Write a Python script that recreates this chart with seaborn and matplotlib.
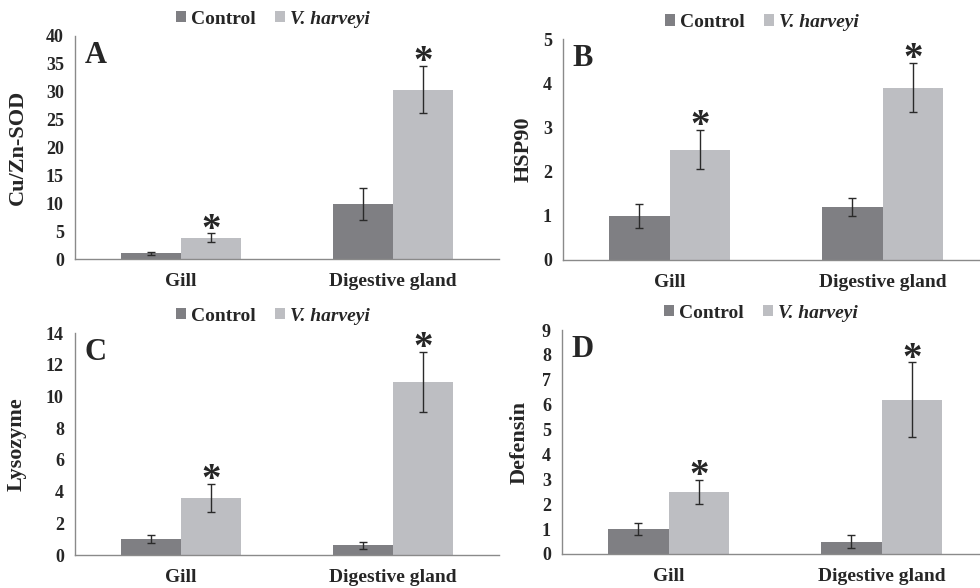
import matplotlib.pyplot as plt
import seaborn as sns
import numpy as np
import pandas as pd
from matplotlib.patches import Patch


TISSUES = ['Gill', 'Digestive gland']
GROUPS = ['Control', 'V. harveyi']
PALETTE = ['#7f7f83', '#bdbec2']
SPINE = '#8a8a8a'

# values, ordered [Gill, Digestive gland]
sod_control = [1.0, 9.8]
sod_control_err = [0.3, 2.85]
sod_vibrio = [3.8, 30.4]
sod_vibrio_err = [0.8, 4.2]

hsp_control = [1.0, 1.2]
hsp_control_err = [0.27, 0.21]
hsp_vibrio = [2.5, 3.9]
hsp_vibrio_err = [0.45, 0.56]

lys_control = [1.0, 0.6]
lys_control_err = [0.25, 0.2]
lys_vibrio = [3.6, 10.9]
lys_vibrio_err = [0.9, 1.9]

def_control = [1.0, 0.5]
def_control_err = [0.25, 0.25]
def_vibrio = [2.5, 6.2]
def_vibrio_err = [0.48, 1.5]


def bar_panel(ax, control, control_err, vibrio, vibrio_err, ylabel, letter,
              ymax, ystep, label_x):
    df = pd.DataFrame({
        'tissue': TISSUES * 2,
        'group': [GROUPS[0]] * len(TISSUES) + [GROUPS[1]] * len(TISSUES),
        'value': list(control) + list(vibrio),
    })
    sns.barplot(data=df, x='tissue', y='value', hue='group', order=TISSUES,
                hue_order=GROUPS, palette=PALETTE, width=0.57, errorbar=None,
                saturation=1, linewidth=0, legend=False, ax=ax)

    # error bars on top of each bar, asterisks above the V. harveyi ones
    for cont, vals, errs in zip(ax.containers, [control, vibrio],
                                [control_err, vibrio_err]):
        xs = [b.get_x() + b.get_width() / 2 for b in cont]
        ax.errorbar(xs, vals, yerr=errs, fmt='none', ecolor='#2a2a2a',
                    elinewidth=1, capsize=3, capthick=1)
    vib_x = [b.get_x() + b.get_width() / 2 for b in ax.containers[1]]
    for x, v, e in zip(vib_x, vibrio, vibrio_err):
        ax.annotate('*', (x, v + e), xytext=(0, -11), textcoords='offset points',
                    ha='center', va='bottom', fontsize=28, fontweight='bold')

    ax.set_xlim(-0.5, len(TISSUES) - 0.5)
    ax.set_ylim(0, ymax)
    ax.set_yticks(np.arange(0, ymax + ystep / 2, ystep))
    ax.set_xticks(np.arange(-0.5, len(TISSUES)), minor=True)
    ax.tick_params(axis='x', which='major', length=0, pad=10, labelsize=14)
    ax.tick_params(axis='x', which='minor', length=6, direction='out',
                   color=SPINE)
    ax.tick_params(axis='y', length=5, direction='out', color=SPINE,
                   labelsize=13, pad=3)
    ax.set_xlabel('')
    ax.set_ylabel(ylabel, fontsize=16, fontweight='bold')
    ax.yaxis.set_label_coords(label_x, 0.5)
    for side in ['top', 'right']:
        ax.spines[side].set_visible(False)
    for side in ['left', 'bottom']:
        ax.spines[side].set_color(SPINE)
        ax.spines[side].set_linewidth(1)

    ax.text(0.022, 0.88, letter, transform=ax.transAxes, fontsize=22,
            fontweight='bold', va='baseline', ha='left')

    handles = [Patch(facecolor=c, edgecolor='none') for c in PALETTE]
    leg = ax.legend(handles, GROUPS, loc='center', bbox_to_anchor=(0.467, 1.075),
                    ncol=2, frameon=False, fontsize=14, handlelength=0.5,
                    handleheight=0.5, handletextpad=0.25, columnspacing=1.0,
                    borderaxespad=0)
    leg.get_texts()[1].set_style('italic')


sns.set_style('white')
plt.rcParams['font.family'] = ['Liberation Serif', 'DejaVu Serif']
plt.rcParams['font.weight'] = 'bold'

fig = plt.figure(figsize=(9.8, 5.88), dpi=100)
W, H = 980, 588
ax_a = fig.add_axes([75 / W, 1 - 259 / H, 424 / W, 223 / H])
ax_b = fig.add_axes([563 / W, 1 - 260 / H, 426 / W, 221 / H])
ax_c = fig.add_axes([75 / W, 1 - 555 / H, 424 / W, 222 / H])
ax_d = fig.add_axes([562 / W, 1 - 554 / H, 426 / W, 224 / H])

bar_panel(ax_a, sod_control, sod_control_err, sod_vibrio, sod_vibrio_err,
          'Cu/Zn-SOD', 'A', 40, 5, -0.111)
bar_panel(ax_b, hsp_control, hsp_control_err, hsp_vibrio, hsp_vibrio_err,
          'HSP90', 'B', 5, 1, -0.070)
bar_panel(ax_c, lys_control, lys_control_err, lys_vibrio, lys_vibrio_err,
          'Lysozyme', 'C', 14, 2, -0.113)
bar_panel(ax_d, def_control, def_control_err, def_vibrio, def_vibrio_err,
          'Defensin', 'D', 9, 1, -0.075)

fig.savefig('out.png', dpi=100)
plt.close()
